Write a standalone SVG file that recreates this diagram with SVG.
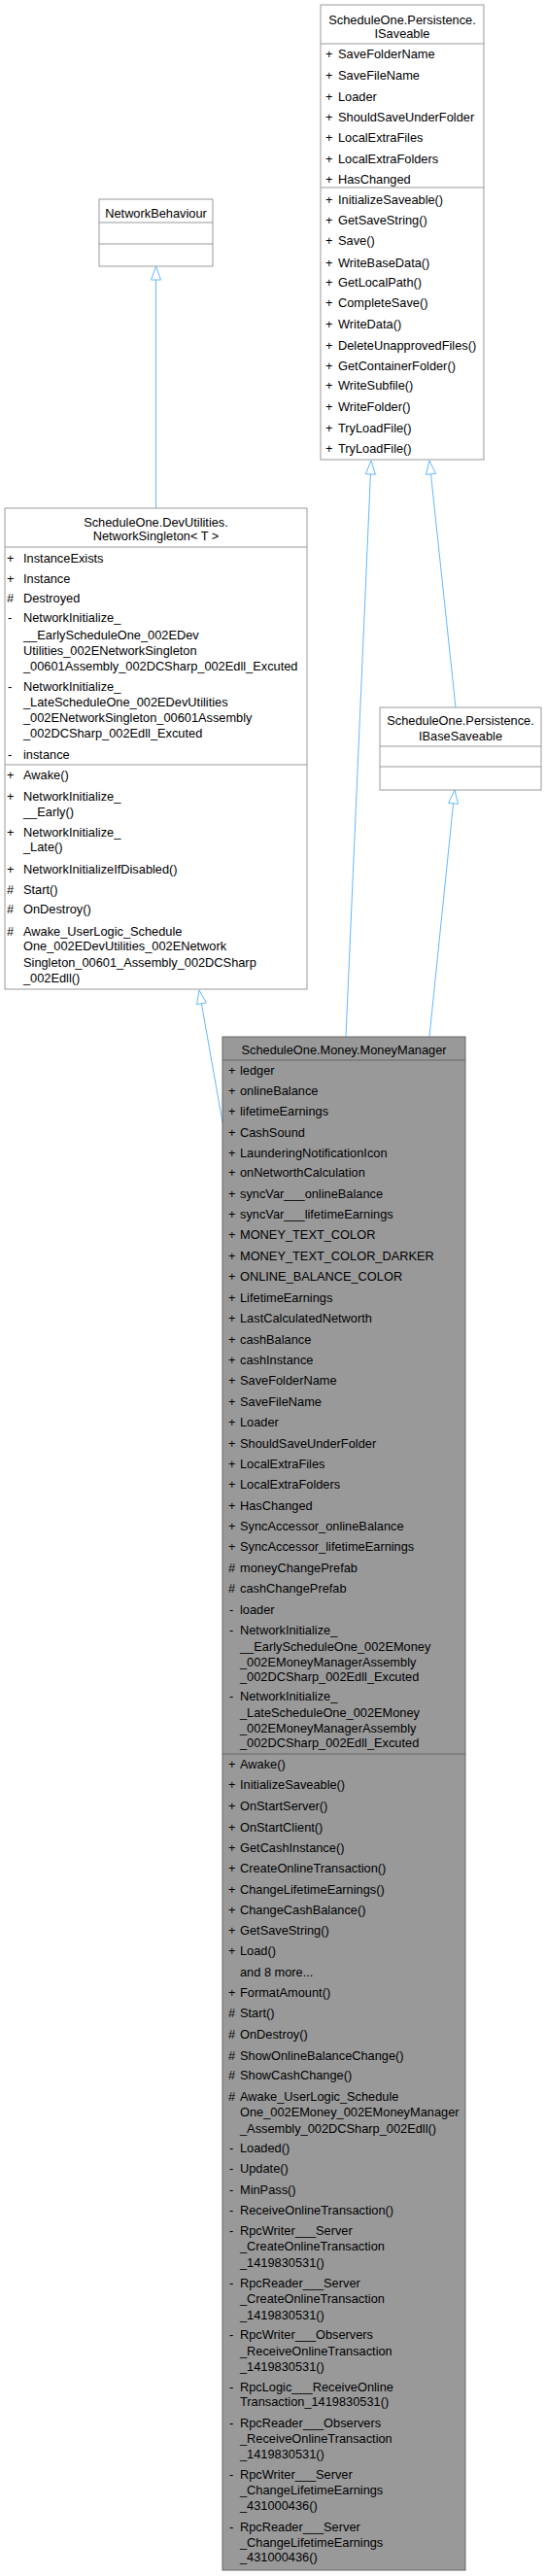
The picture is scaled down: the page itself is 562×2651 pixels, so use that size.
<svg xmlns="http://www.w3.org/2000/svg" width="562" height="2651" viewBox="0 0 562 2651">
<style>
text{font-family:"Liberation Sans",Arial,Helvetica,sans-serif;font-size:12.8px;fill:#000}
.c{text-anchor:middle}
.box{fill:#fff;stroke:#999;stroke-width:1}
.sep{stroke:#999;stroke-width:1}
.hl{fill:#999;stroke:#666;stroke-width:1}
.hls{stroke:#666;stroke-width:1}
.edge{stroke:#63B8FF;stroke-width:1;fill:none}
.head{fill:#fff;stroke:#63B8FF;stroke-width:1}
</style>
<rect width="562" height="2651" fill="#fff"/>
<g id="edges">
<line class="edge" x1="160.5" y1="523" x2="160.5" y2="288"/>
<polygon class="head" points="160.5,274 165.5,288 155.5,288"/>
<line class="edge" x1="229" y1="1155" x2="207.4" y2="1032.8"/>
<polygon class="head" points="205,1019 212.3,1031.9 202.5,1033.7"/>
<line class="edge" x1="356" y1="1067" x2="381.4" y2="488"/>
<polygon class="head" points="382,474 386.4,488.2 376.4,487.8"/>
<line class="edge" x1="442" y1="1067" x2="466.6" y2="826.9"/>
<polygon class="head" points="468,813 471.6,827.4 461.6,826.4"/>
<line class="edge" x1="469" y1="728" x2="443.5" y2="487.9"/>
<polygon class="head" points="442,474 448.5,487.4 438.5,488.4"/>
</g>
<g id="n_isaveable">
<rect class="box" x="330" y="5" width="168" height="468"/>
<line class="sep" x1="330" y1="45" x2="498" y2="45"/>
<line class="sep" x1="330" y1="193" x2="498" y2="193"/>
<text class="c" x="414" y="25">ScheduleOne.Persistence.</text>
<text class="c" x="414" y="39">ISaveable</text>
<text x="335" y="59.5">+</text><text x="348" y="59.5">SaveFolderName</text>
<text x="335" y="82">+</text><text x="348" y="82">SaveFileName</text>
<text x="335" y="103.5">+</text><text x="348" y="103.5">Loader</text>
<text x="335" y="124.5">+</text><text x="348" y="124.5">ShouldSaveUnderFolder</text>
<text x="335" y="146">+</text><text x="348" y="146">LocalExtraFiles</text>
<text x="335" y="167.5">+</text><text x="348" y="167.5">LocalExtraFolders</text>
<text x="335" y="188.5">+</text><text x="348" y="188.5">HasChanged</text>
<text x="335" y="210">+</text><text x="348" y="210">InitializeSaveable()</text>
<text x="335" y="231">+</text><text x="348" y="231">GetSaveString()</text>
<text x="335" y="252">+</text><text x="348" y="252">Save()</text>
<text x="335" y="274.5">+</text><text x="348" y="274.5">WriteBaseData()</text>
<text x="335" y="295">+</text><text x="348" y="295">GetLocalPath()</text>
<text x="335" y="316">+</text><text x="348" y="316">CompleteSave()</text>
<text x="335" y="338">+</text><text x="348" y="338">WriteData()</text>
<text x="335" y="359.5">+</text><text x="348" y="359.5">DeleteUnapprovedFiles()</text>
<text x="335" y="380.5">+</text><text x="348" y="380.5">GetContainerFolder()</text>
<text x="335" y="401">+</text><text x="348" y="401">WriteSubfile()</text>
<text x="335" y="423">+</text><text x="348" y="423">WriteFolder()</text>
<text x="335" y="444.5">+</text><text x="348" y="444.5">TryLoadFile()</text>
<text x="335" y="465.5">+</text><text x="348" y="465.5">TryLoadFile()</text>
</g>
<g id="n_networkbehaviour">
<rect class="box" x="102" y="205" width="117" height="69"/>
<line class="sep" x1="102" y1="229" x2="219" y2="229"/>
<line class="sep" x1="102" y1="251" x2="219" y2="251"/>
<text class="c" x="160.5" y="224">NetworkBehaviour</text>
</g>
<g id="n_networksingleton">
<rect class="box" x="5" y="523" width="311" height="495"/>
<line class="sep" x1="5" y1="563" x2="316" y2="563"/>
<line class="sep" x1="5" y1="787" x2="316" y2="787"/>
<text class="c" x="160.5" y="542">ScheduleOne.DevUtilities.</text>
<text class="c" x="160.5" y="556">NetworkSingleton&lt; T &gt;</text>
<text x="7" y="579">+</text><text x="24" y="579">InstanceExists</text>
<text x="7" y="599.5">+</text><text x="24" y="599.5">Instance</text>
<text x="7" y="620">#</text><text x="24" y="620">Destroyed</text>
<text x="8" y="640">-</text><text x="24" y="640">NetworkInitialize_</text>
<text x="24" y="657.5">__EarlyScheduleOne_002EDev</text>
<text x="24" y="674">Utilities_002ENetworkSingleton</text>
<text x="24" y="690">_00601Assembly_002DCSharp_002Edll_Excuted</text>
<text x="8" y="711">-</text><text x="24" y="711">NetworkInitialize_</text>
<text x="24" y="727">_LateScheduleOne_002EDevUtilities</text>
<text x="24" y="743">_002ENetworkSingleton_00601Assembly</text>
<text x="24" y="759">_002DCSharp_002Edll_Excuted</text>
<text x="8" y="780.5">-</text><text x="24" y="780.5">instance</text>
<text x="7" y="802">+</text><text x="24" y="802">Awake()</text>
<text x="7" y="824">+</text><text x="24" y="824">NetworkInitialize_</text>
<text x="24" y="839.5">__Early()</text>
<text x="7" y="861">+</text><text x="24" y="861">NetworkInitialize_</text>
<text x="24" y="876">_Late()</text>
<text x="7" y="898.5">+</text><text x="24" y="898.5">NetworkInitializeIfDisabled()</text>
<text x="7" y="919.5">#</text><text x="24" y="919.5">Start()</text>
<text x="7" y="940">#</text><text x="24" y="940">OnDestroy()</text>
<text x="7" y="963">#</text><text x="24" y="963">Awake_UserLogic_Schedule</text>
<text x="24" y="978">One_002EDevUtilities_002ENetwork</text>
<text x="24" y="994.5">Singleton_00601_Assembly_002DCSharp</text>
<text x="24" y="1010.5">_002Edll()</text>
</g>
<g id="n_ibasesaveable">
<rect class="box" x="391" y="728" width="166" height="85"/>
<line class="sep" x1="391" y1="768" x2="557" y2="768"/>
<line class="sep" x1="391" y1="789" x2="557" y2="789"/>
<text class="c" x="474" y="745.5">ScheduleOne.Persistence.</text>
<text class="c" x="474" y="761.5">IBaseSaveable</text>
</g>
<g id="n_moneymanager">
<rect class="hl" x="229" y="1067" width="250" height="1578"/>
<line class="hls" x1="229" y1="1091" x2="479" y2="1091"/>
<line class="hls" x1="229" y1="1805" x2="479" y2="1805"/>
<text class="c" x="354" y="1084.5">ScheduleOne.Money.MoneyManager</text>
<text x="235" y="1106">+</text><text x="247" y="1106">ledger</text>
<text x="235" y="1127">+</text><text x="247" y="1127">onlineBalance</text>
<text x="235" y="1148">+</text><text x="247" y="1148">lifetimeEarnings</text>
<text x="235" y="1169.5">+</text><text x="247" y="1169.5">CashSound</text>
<text x="235" y="1190.5">+</text><text x="247" y="1190.5">LaunderingNotificationIcon</text>
<text x="235" y="1211">+</text><text x="247" y="1211">onNetworthCalculation</text>
<text x="235" y="1232.5">+</text><text x="247" y="1232.5">syncVar___onlineBalance</text>
<text x="235" y="1254">+</text><text x="247" y="1254">syncVar___lifetimeEarnings</text>
<text x="235" y="1275">+</text><text x="247" y="1275">MONEY_TEXT_COLOR</text>
<text x="235" y="1297">+</text><text x="247" y="1297">MONEY_TEXT_COLOR_DARKER</text>
<text x="235" y="1318">+</text><text x="247" y="1318">ONLINE_BALANCE_COLOR</text>
<text x="235" y="1339.5">+</text><text x="247" y="1339.5">LifetimeEarnings</text>
<text x="235" y="1361">+</text><text x="247" y="1361">LastCalculatedNetworth</text>
<text x="235" y="1383">+</text><text x="247" y="1383">cashBalance</text>
<text x="235" y="1404">+</text><text x="247" y="1404">cashInstance</text>
<text x="235" y="1425">+</text><text x="247" y="1425">SaveFolderName</text>
<text x="235" y="1447">+</text><text x="247" y="1447">SaveFileName</text>
<text x="235" y="1468">+</text><text x="247" y="1468">Loader</text>
<text x="235" y="1489.5">+</text><text x="247" y="1489.5">ShouldSaveUnderFolder</text>
<text x="235" y="1510.5">+</text><text x="247" y="1510.5">LocalExtraFiles</text>
<text x="235" y="1532">+</text><text x="247" y="1532">LocalExtraFolders</text>
<text x="235" y="1554">+</text><text x="247" y="1554">HasChanged</text>
<text x="235" y="1574.5">+</text><text x="247" y="1574.5">SyncAccessor_onlineBalance</text>
<text x="235" y="1596">+</text><text x="247" y="1596">SyncAccessor_lifetimeEarnings</text>
<text x="235" y="1618">#</text><text x="247" y="1618">moneyChangePrefab</text>
<text x="235" y="1638.5">#</text><text x="247" y="1638.5">cashChangePrefab</text>
<text x="236" y="1660.5">-</text><text x="247" y="1660.5">loader</text>
<text x="236" y="1682">-</text><text x="247" y="1682">NetworkInitialize_</text>
<text x="247" y="1698.5">__EarlyScheduleOne_002EMoney</text>
<text x="247" y="1714.5">_002EMoneyManagerAssembly</text>
<text x="247" y="1730">_002DCSharp_002Edll_Excuted</text>
<text x="236" y="1750">-</text><text x="247" y="1750">NetworkInitialize_</text>
<text x="247" y="1767">_LateScheduleOne_002EMoney</text>
<text x="247" y="1783">_002EMoneyManagerAssembly</text>
<text x="247" y="1798">_002DCSharp_002Edll_Excuted</text>
<text x="235" y="1819.5">+</text><text x="247" y="1819.5">Awake()</text>
<text x="235" y="1841">+</text><text x="247" y="1841">InitializeSaveable()</text>
<text x="235" y="1863">+</text><text x="247" y="1863">OnStartServer()</text>
<text x="235" y="1884.5">+</text><text x="247" y="1884.5">OnStartClient()</text>
<text x="235" y="1906">+</text><text x="247" y="1906">GetCashInstance()</text>
<text x="235" y="1927">+</text><text x="247" y="1927">CreateOnlineTransaction()</text>
<text x="235" y="1948.5">+</text><text x="247" y="1948.5">ChangeLifetimeEarnings()</text>
<text x="235" y="1970">+</text><text x="247" y="1970">ChangeCashBalance()</text>
<text x="235" y="1991">+</text><text x="247" y="1991">GetSaveString()</text>
<text x="235" y="2012">+</text><text x="247" y="2012">Load()</text>
<text x="247" y="2034">and 8 more...</text>
<text x="235" y="2055">+</text><text x="247" y="2055">FormatAmount()</text>
<text x="235" y="2075.5">#</text><text x="247" y="2075.5">Start()</text>
<text x="235" y="2098">#</text><text x="247" y="2098">OnDestroy()</text>
<text x="235" y="2119.5">#</text><text x="247" y="2119.5">ShowOnlineBalanceChange()</text>
<text x="235" y="2140">#</text><text x="247" y="2140">ShowCashChange()</text>
<text x="235" y="2162">#</text><text x="247" y="2162">Awake_UserLogic_Schedule</text>
<text x="247" y="2178">One_002EMoney_002EMoneyManager</text>
<text x="247" y="2194.5">_Assembly_002DCSharp_002Edll()</text>
<text x="236" y="2214.5">-</text><text x="247" y="2214.5">Loaded()</text>
<text x="236" y="2236">-</text><text x="247" y="2236">Update()</text>
<text x="236" y="2258">-</text><text x="247" y="2258">MinPass()</text>
<text x="236" y="2279">-</text><text x="247" y="2279">ReceiveOnlineTransaction()</text>
<text x="236" y="2299.5">-</text><text x="247" y="2299.5">RpcWriter___Server</text>
<text x="247" y="2316">_CreateOnlineTransaction</text>
<text x="247" y="2333">_1419830531()</text>
<text x="236" y="2354">-</text><text x="247" y="2354">RpcReader___Server</text>
<text x="247" y="2370">_CreateOnlineTransaction</text>
<text x="247" y="2387">_1419830531()</text>
<text x="236" y="2407">-</text><text x="247" y="2407">RpcWriter___Observers</text>
<text x="247" y="2423.5">_ReceiveOnlineTransaction</text>
<text x="247" y="2439.5">_1419830531()</text>
<text x="236" y="2460.5">-</text><text x="247" y="2460.5">RpcLogic___ReceiveOnline</text>
<text x="247" y="2476">Transaction_1419830531()</text>
<text x="236" y="2498">-</text><text x="247" y="2498">RpcReader___Observers</text>
<text x="247" y="2514">_ReceiveOnlineTransaction</text>
<text x="247" y="2529.5">_1419830531()</text>
<text x="236" y="2551">-</text><text x="247" y="2551">RpcWriter___Server</text>
<text x="247" y="2567">_ChangeLifetimeEarnings</text>
<text x="247" y="2583">_431000436()</text>
<text x="236" y="2604.5">-</text><text x="247" y="2604.5">RpcReader___Server</text>
<text x="247" y="2620.5">_ChangeLifetimeEarnings</text>
<text x="247" y="2636">_431000436()</text>
</g>
</svg>
